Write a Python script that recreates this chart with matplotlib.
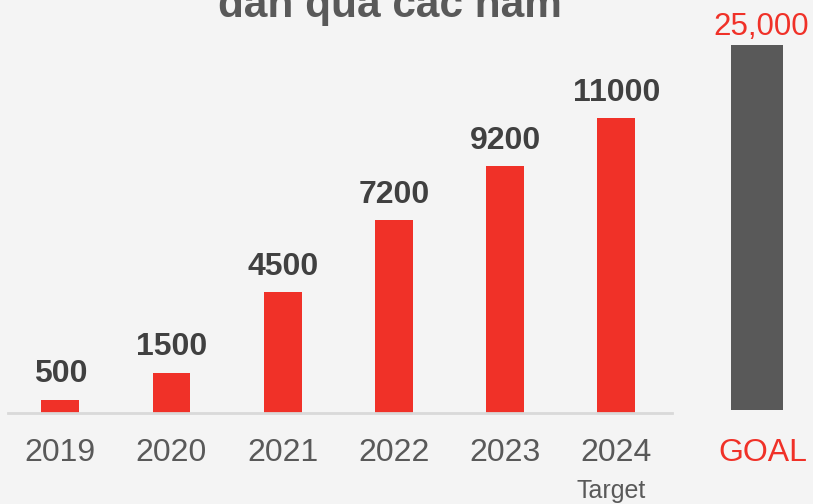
"""Bar chart: yearly values with a separate goal bar."""

import matplotlib
matplotlib.use("Agg")
import matplotlib.pyplot as plt

years = ["2019", "2020", "2021", "2022", "2023", "2024"]
values = [500, 1500, 4500, 7200, 9200, 11000]
goal_value = 25000
goal_label = "GOAL"
title = "dân qua các năm"

RED = "#f03128"
GREY = "#595959"
BG = "#f4f4f4"

plt.rcParams["font.family"] = ["Liberation Sans", "DejaVu Sans"]

fig = plt.figure(figsize=(8.13, 5.04), dpi=100)
fig.patch.set_facecolor(BG)

# main chart
ax = fig.add_axes([8 / 813, 91 / 504, 664 / 813, 393 / 504])
ax.set_facecolor(BG)
x = range(len(years))
bars = ax.bar(x, values, width=0.34, color=RED, zorder=2)
ax.set_xlim(-0.47, 5.5)
ax.set_ylim(0, 14654)
for side in ["top", "right", "left"]:
    ax.spines[side].set_visible(False)
ax.spines["bottom"].set_color("#d9d9d9")
ax.spines["bottom"].set_linewidth(2)
ax.set_yticks([])
ax.set_xticks(list(x))
ax.set_xticklabels(years, fontsize=23, color=GREY)
ax.tick_params(axis="x", length=0, pad=18)

for b, v in zip(bars, values):
    ax.annotate(str(v), (b.get_x() + b.get_width() / 2, v),
                xytext=(0, 12.5), textcoords="offset points",
                ha="center", va="baseline", fontsize=23,
                fontweight="bold", color="#404040")

ax.annotate("Target", (5, 0), xycoords=("data", "axes fraction"),
            xytext=(-4, -61), textcoords="offset points",
            ha="center", va="baseline", fontsize=18, color=GREY,
            annotation_clip=False)

# goal bar
gx = fig.add_axes([731 / 813, 94 / 504, 52 / 813, 365 / 504])
gx.patch.set_alpha(0)
gx.bar([0], [goal_value], width=1.0, color=GREY)
gx.set_xlim(-0.5, 0.5)
gx.set_ylim(0, goal_value)
gx.axis("off")
gx.annotate(f"{goal_value:,}", (0, goal_value), xytext=(3, 7),
            textcoords="offset points", ha="center", va="baseline",
            fontsize=22.5, color=RED, annotation_clip=False)
gx.annotate(goal_label, (0, 0), xytext=(4, -37),
            textcoords="offset points", ha="center", va="baseline",
            fontsize=23, color=RED, annotation_clip=False)

fig.text(390 / 813, 1 - 17 / 504, title, ha="center", va="baseline",
         fontsize=30.5, fontweight="bold", color=GREY)

fig.savefig("out.png", dpi=100, facecolor=BG)
